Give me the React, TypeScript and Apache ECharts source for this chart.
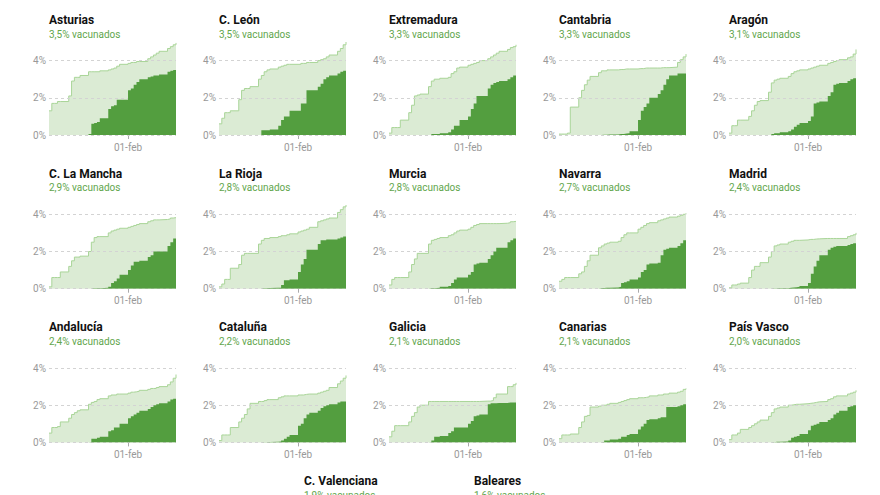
import React, { useEffect, useRef } from 'react';
import * as echarts from 'echarts';

// Report dates (weekdays) — cumulative % of population
const DATES = [
  '2021-01-04', '2021-01-05', '2021-01-06', '2021-01-07', '2021-01-08',
  '2021-01-11', '2021-01-12', '2021-01-13', '2021-01-14', '2021-01-15',
  '2021-01-18', '2021-01-19', '2021-01-20', '2021-01-21', '2021-01-22',
  '2021-01-25', '2021-01-26', '2021-01-27', '2021-01-28', '2021-01-29',
  '2021-02-01', '2021-02-02', '2021-02-03', '2021-02-04', '2021-02-05',
  '2021-02-08', '2021-02-09', '2021-02-10', '2021-02-11', '2021-02-12',
  '2021-02-15', '2021-02-16', '2021-02-17', '2021-02-18',
];
const X_MIN = '2021-01-04';
const X_MAX = '2021-02-18';
const X_TICKS = ['2021-02-01'];
const Y_TICKS = [0, 2, 4];
const Y_MAX = 5;
const MESES = ['ene', 'feb', 'mar', 'abr', 'may', 'jun', 'jul', 'ago', 'sep', 'oct', 'nov', 'dic'];

// Light area: first dose; dark area: fully vaccinated
const asturias1 = [1.3, 1.7, 1.7, 1.8, 1.8, 2.1, 2.9, 3.1, 3.1, 3.2, 3.4, 3.4, 3.4, 3.4, 3.45, 3.5, 3.55, 3.6, 3.7, 3.8, 3.85, 3.9, 3.9, 3.95, 3.95, 4.1, 4.2, 4.3, 4.4, 4.5, 4.65, 4.75, 4.85, 4.95];
const asturias2 = [0, 0, 0, 0, 0, 0, 0, 0, 0, 0, 0.05, 0.6, 0.65, 0.7, 0.9, 1.4, 1.55, 1.6, 1.9, 1.9, 2.4, 2.5, 2.7, 2.85, 3.0, 3.1, 3.15, 3.2, 3.2, 3.25, 3.4, 3.45, 3.5, 3.5];
const leon1 = [0.6, 0.9, 1.2, 1.2, 1.3, 1.9, 2.4, 2.5, 2.5, 2.6, 3.0, 3.2, 3.4, 3.5, 3.55, 3.65, 3.7, 3.75, 3.8, 3.8, 3.8, 3.85, 3.85, 3.9, 3.9, 4.0, 4.05, 4.1, 4.2, 4.3, 4.5, 4.65, 4.85, 5.0];
const leon2 = [0, 0, 0, 0, 0, 0, 0, 0, 0, 0, 0, 0.25, 0.25, 0.25, 0.3, 0.5, 0.8, 1.0, 1.0, 1.3, 1.3, 1.7, 1.7, 2.4, 2.4, 2.6, 2.75, 3.0, 3.1, 3.2, 3.3, 3.4, 3.45, 3.5];
const extremadura1 = [0.1, 0.4, 0.4, 0.4, 0.8, 1.2, 1.6, 2.1, 2.15, 2.2, 2.6, 2.9, 3.0, 3.0, 3.05, 3.1, 3.3, 3.4, 3.6, 3.65, 3.75, 3.8, 3.85, 3.9, 4.0, 4.1, 4.2, 4.3, 4.4, 4.5, 4.6, 4.7, 4.75, 4.85];
const extremadura2 = [0, 0, 0, 0, 0, 0, 0, 0, 0, 0, 0, 0.05, 0.05, 0.05, 0.1, 0.15, 0.3, 0.5, 0.5, 0.8, 1.0, 1.4, 1.7, 2.1, 2.1, 2.5, 2.7, 2.8, 2.85, 2.9, 3.0, 3.1, 3.2, 3.3];
const cantabria1 = [0.05, 0.05, 0.05, 0.1, 1.5, 2.0, 2.4, 2.7, 2.95, 3.15, 3.35, 3.45, 3.45, 3.5, 3.5, 3.52, 3.52, 3.55, 3.55, 3.55, 3.57, 3.57, 3.6, 3.6, 3.6, 3.6, 3.62, 3.62, 3.62, 3.65, 3.9, 4.05, 4.2, 4.35];
const cantabria2 = [0, 0, 0, 0, 0, 0, 0, 0, 0, 0, 0, 0.02, 0.02, 0.03, 0.03, 0.05, 0.06, 0.08, 0.1, 0.2, 0.8, 1.3, 1.5, 1.7, 2.0, 2.2, 2.4, 2.7, 3.0, 3.2, 3.3, 3.3, 3.3, 3.3];
const aragon1 = [0.1, 0.5, 0.5, 0.8, 0.8, 1.0, 1.3, 1.6, 1.8, 1.85, 2.3, 2.8, 2.95, 3.0, 3.05, 3.15, 3.3, 3.4, 3.45, 3.5, 3.55, 3.6, 3.65, 3.7, 3.75, 3.85, 3.9, 3.95, 4.0, 4.05, 4.15, 4.2, 4.35, 4.6];
const aragon2 = [0, 0, 0, 0, 0, 0, 0, 0, 0, 0, 0, 0.05, 0.1, 0.1, 0.15, 0.2, 0.3, 0.45, 0.55, 0.65, 0.75, 1.0, 1.7, 1.75, 1.8, 2.1, 2.3, 2.7, 2.75, 2.8, 2.9, 3.0, 3.05, 3.1];
const mancha1 = [0.1, 0.6, 0.6, 0.6, 0.9, 1.2, 1.5, 1.7, 1.7, 1.75, 2.0, 2.5, 2.75, 2.8, 2.8, 3.0, 3.1, 3.15, 3.2, 3.25, 3.3, 3.35, 3.4, 3.45, 3.5, 3.6, 3.65, 3.7, 3.7, 3.72, 3.75, 3.8, 3.82, 3.85];
const mancha2 = [0, 0, 0, 0, 0, 0, 0, 0, 0, 0, 0, 0.02, 0.02, 0.03, 0.05, 0.1, 0.3, 0.4, 0.55, 0.75, 1.0, 1.25, 1.45, 1.45, 1.5, 1.7, 1.8, 2.0, 2.0, 2.0, 2.3, 2.5, 2.7, 2.9];
const rioja1 = [0.1, 0.25, 0.5, 0.5, 1.1, 1.3, 1.8, 1.9, 1.9, 1.9, 2.4, 2.6, 2.7, 2.7, 2.75, 2.8, 2.85, 2.85, 2.9, 2.95, 3.05, 3.1, 3.15, 3.2, 3.3, 3.6, 3.65, 3.7, 3.75, 3.8, 4.1, 4.25, 4.4, 4.5];
const rioja2 = [0, 0, 0, 0, 0, 0, 0, 0, 0, 0, 0, 0.03, 0.03, 0.04, 0.05, 0.05, 0.2, 0.45, 0.45, 0.5, 0.9, 1.3, 1.6, 2.1, 2.1, 2.4, 2.6, 2.6, 2.65, 2.65, 2.7, 2.75, 2.8, 2.8];
const murcia1 = [0.2, 0.5, 0.6, 0.6, 0.6, 0.9, 1.3, 1.6, 1.9, 1.9, 2.4, 2.6, 2.65, 2.7, 2.75, 2.85, 2.9, 3.0, 3.1, 3.15, 3.2, 3.3, 3.4, 3.45, 3.5, 3.5, 3.5, 3.5, 3.5, 3.52, 3.55, 3.6, 3.62, 3.65];
const murcia2 = [0, 0, 0, 0, 0, 0, 0, 0, 0, 0, 0.02, 0.03, 0.04, 0.05, 0.1, 0.15, 0.3, 0.5, 0.6, 0.6, 0.75, 0.9, 1.3, 1.35, 1.4, 1.6, 1.8, 2.0, 2.2, 2.2, 2.5, 2.6, 2.7, 2.8];
const navarra1 = [0.4, 0.5, 0.6, 0.6, 0.6, 0.8, 0.9, 1.2, 1.5, 1.8, 2.2, 2.3, 2.4, 2.45, 2.5, 2.55, 2.75, 2.9, 3.0, 3.0, 3.2, 3.3, 3.4, 3.5, 3.55, 3.65, 3.7, 3.75, 3.8, 3.85, 3.9, 3.95, 4.0, 4.05];
const navarra2 = [0, 0, 0, 0, 0, 0, 0, 0, 0, 0, 0.03, 0.04, 0.05, 0.05, 0.07, 0.1, 0.3, 0.35, 0.4, 0.5, 0.6, 0.9, 1.0, 1.3, 1.35, 1.4, 1.8, 2.1, 2.15, 2.2, 2.3, 2.45, 2.6, 2.7];
const madrid1 = [0.05, 0.2, 0.2, 0.25, 0.3, 0.6, 1.0, 1.2, 1.2, 1.4, 1.7, 2.0, 2.3, 2.35, 2.4, 2.5, 2.55, 2.6, 2.6, 2.62, 2.65, 2.65, 2.67, 2.68, 2.7, 2.7, 2.7, 2.7, 2.7, 2.7, 2.8, 2.85, 2.9, 3.0];
const madrid2 = [0, 0, 0, 0, 0, 0, 0, 0, 0, 0, 0, 0.01, 0.01, 0.02, 0.03, 0.05, 0.06, 0.08, 0.1, 0.15, 0.3, 0.8, 1.2, 1.5, 1.8, 2.1, 2.2, 2.25, 2.3, 2.3, 2.35, 2.4, 2.45, 2.45];
const andalucia1 = [0.5, 0.8, 0.8, 0.85, 1.1, 1.3, 1.5, 1.6, 1.7, 1.75, 2.05, 2.15, 2.2, 2.3, 2.35, 2.5, 2.55, 2.55, 2.6, 2.6, 2.65, 2.7, 2.72, 2.75, 2.8, 2.85, 2.9, 2.9, 2.95, 3.0, 3.1, 3.25, 3.45, 3.65];
const andalucia2 = [0, 0, 0, 0, 0, 0, 0, 0, 0, 0, 0.02, 0.2, 0.2, 0.25, 0.3, 0.6, 0.65, 0.8, 0.8, 1.0, 1.3, 1.4, 1.5, 1.6, 1.7, 1.8, 1.9, 2.0, 2.05, 2.1, 2.2, 2.3, 2.35, 2.4];
const cataluna1 = [0.1, 0.4, 0.4, 0.4, 0.8, 1.1, 1.3, 1.5, 1.8, 2.1, 2.2, 2.2, 2.25, 2.3, 2.3, 2.4, 2.45, 2.5, 2.5, 2.5, 2.55, 2.55, 2.58, 2.6, 2.6, 2.65, 2.7, 2.75, 2.8, 2.95, 3.15, 3.3, 3.45, 3.6];
const cataluna2 = [0, 0, 0, 0, 0, 0, 0, 0, 0, 0, 0, 0.01, 0.01, 0.02, 0.03, 0.05, 0.1, 0.2, 0.3, 0.4, 0.9, 1.0, 1.3, 1.5, 1.6, 1.7, 1.85, 1.95, 2.0, 2.05, 2.15, 2.2, 2.2, 2.2];
const galicia1 = [0.3, 0.6, 0.9, 0.9, 0.9, 1.1, 1.4, 1.6, 1.9, 2.0, 2.2, 2.2, 2.2, 2.2, 2.2, 2.2, 2.2, 2.2, 2.2, 2.2, 2.2, 2.2, 2.2, 2.2, 2.22, 2.22, 2.25, 2.4, 2.6, 2.6, 3.0, 3.0, 3.1, 3.2];
const galicia2 = [0, 0, 0, 0, 0, 0, 0, 0, 0, 0, 0.02, 0.1, 0.3, 0.3, 0.35, 0.5, 0.6, 0.8, 0.8, 0.8, 1.0, 1.15, 1.4, 1.45, 1.5, 2.05, 2.1, 2.1, 2.12, 2.12, 2.15, 2.15, 2.15, 2.15];
const canarias1 = [0.2, 0.4, 0.4, 0.4, 0.45, 0.8, 1.1, 1.4, 1.45, 1.9, 1.95, 2.0, 2.0, 2.05, 2.1, 2.15, 2.2, 2.25, 2.3, 2.35, 2.4, 2.4, 2.42, 2.45, 2.5, 2.55, 2.55, 2.6, 2.6, 2.65, 2.7, 2.75, 2.85, 2.9];
const canarias2 = [0, 0, 0, 0, 0, 0, 0, 0, 0, 0, 0, 0.02, 0.1, 0.1, 0.15, 0.2, 0.3, 0.3, 0.4, 0.45, 0.7, 0.85, 1.0, 1.2, 1.25, 1.3, 1.35, 1.35, 1.9, 1.9, 1.95, 2.0, 2.05, 2.1];
const vasco1 = [0.15, 0.4, 0.4, 0.5, 0.7, 0.8, 0.9, 1.0, 1.1, 1.2, 1.4, 1.6, 1.8, 1.85, 1.9, 2.0, 2.02, 2.05, 2.05, 2.08, 2.1, 2.12, 2.15, 2.18, 2.2, 2.3, 2.35, 2.45, 2.5, 2.5, 2.6, 2.65, 2.7, 2.8];
const vasco2 = [0, 0, 0, 0, 0, 0, 0, 0, 0, 0, 0, 0.01, 0.03, 0.03, 0.05, 0.1, 0.25, 0.3, 0.35, 0.45, 0.65, 0.9, 0.95, 1.0, 1.1, 1.2, 1.3, 1.5, 1.6, 1.7, 1.9, 1.95, 2.0, 2.0];

const REGIONS = [
  { name: 'Asturias', vac: 3.5, first: asturias1, full: asturias2 },
  { name: 'C. León', vac: 3.5, first: leon1, full: leon2 },
  { name: 'Extremadura', vac: 3.3, first: extremadura1, full: extremadura2 },
  { name: 'Cantabria', vac: 3.3, first: cantabria1, full: cantabria2 },
  { name: 'Aragón', vac: 3.1, first: aragon1, full: aragon2 },
  { name: 'C. La Mancha', vac: 2.9, first: mancha1, full: mancha2 },
  { name: 'La Rioja', vac: 2.8, first: rioja1, full: rioja2 },
  { name: 'Murcia', vac: 2.8, first: murcia1, full: murcia2 },
  { name: 'Navarra', vac: 2.7, first: navarra1, full: navarra2 },
  { name: 'Madrid', vac: 2.4, first: madrid1, full: madrid2 },
  { name: 'Andalucía', vac: 2.4, first: andalucia1, full: andalucia2 },
  { name: 'Cataluña', vac: 2.2, first: cataluna1, full: cataluna2 },
  { name: 'Galicia', vac: 2.1, first: galicia1, full: galicia2 },
  { name: 'Canarias', vac: 2.1, first: canarias1, full: canarias2 },
  { name: 'País Vasco', vac: 2.0, first: vasco1, full: vasco2 },
];
const LAST_ROW = [
  { name: 'C. Valenciana', vac: 1.9 },
  { name: 'Baleares', vac: 1.6 },
];

const ts = (s: string) => {
  const [y, m, d] = s.split('-').map(Number);
  return new Date(y, m - 1, d).getTime();
};
const fmtDate = (v: number) => {
  const d = new Date(v);
  return String(d.getDate()).padStart(2, '0') + '-' + MESES[d.getMonth()];
};
const fmtVac = (v: number) => v.toFixed(1).replace('.', ',') + '% vacunados';

const FONT = 'Roboto, "Noto Sans", sans-serif';
const LIGHT_FILL = '#dbebd4';
const LIGHT_LINE = '#a9d598';
const DARK_FILL = '#539e3f';
const SUB_COLOR = '#62a64c';
const AXIS_TXT = '#999999';

const COL_W = 170;
const ROW_H = 153.7;
const LEFT0 = 49;
const GRID_TOP0 = 42;
const GRID_W = 127;
const GRID_H = 93;
const TITLE_TOP0 = 13;

function buildOption() {
  const title: any[] = [];
  const grid: any[] = [];
  const xAxis: any[] = [];
  const yAxis: any[] = [];
  const series: any[] = [];

  const addTitle = (name: string, vac: number, left: number, top: number) => {
    title.push({
      text: name,
      subtext: fmtVac(vac),
      left,
      top,
      padding: 0,
      itemGap: 1,
      textStyle: { fontFamily: FONT, fontSize: 12, fontWeight: 'bold', color: '#111111', lineHeight: 14 },
      subtextStyle: { fontFamily: FONT, fontSize: 10, color: SUB_COLOR, lineHeight: 12 },
    });
  };

  REGIONS.forEach((r, i) => {
    const col = i % 5;
    const row = Math.floor(i / 5);
    const left = LEFT0 + COL_W * col;
    addTitle(r.name, r.vac, left, TITLE_TOP0 + ROW_H * row);
    grid.push({ left, top: GRID_TOP0 + ROW_H * row, width: GRID_W, height: GRID_H, containLabel: false });
    xAxis.push({
      type: 'value',
      gridIndex: i,
      min: ts(X_MIN),
      max: ts(X_MAX),
      scale: true,
      axisLine: { show: false },
      axisTick: {
        show: true,
        customValues: X_TICKS.map(ts),
        length: 4,
        lineStyle: { color: '#aaaaaa', width: 1 },
      },
      axisLabel: {
        customValues: X_TICKS.map(ts),
        formatter: (v: number) => fmtDate(v),
        color: AXIS_TXT,
        fontSize: 10,
        fontFamily: FONT,
        margin: 7,
        showMinLabel: false,
        showMaxLabel: false,
      },
      splitLine: { show: false },
      axisPointer: { show: false },
    });
    yAxis.push({
      type: 'value',
      gridIndex: i,
      min: 0,
      max: Y_MAX,
      interval: 2,
      axisLine: { show: false },
      axisTick: { show: false },
      splitLine: { show: false },
      axisLabel: {
        color: AXIS_TXT,
        fontSize: 10,
        fontFamily: FONT,
        margin: 3,
        showMaxLabel: false,
        formatter: (v: number) => (Y_TICKS.includes(v) ? v + '%' : ''),
      },
    });
    series.push({
      type: 'line',
      xAxisIndex: i,
      yAxisIndex: i,
      step: 'end',
      symbol: 'none',
      silent: true,
      z: 2,
      lineStyle: { color: LIGHT_LINE, width: 1 },
      areaStyle: { color: LIGHT_FILL, opacity: 1 },
      data: DATES.map((d, j) => [ts(d), r.first[j]]),
      markLine: {
        silent: true,
        z: 3,
        symbol: ['none', 'none'],
        label: { show: false },
        lineStyle: { type: [3, 3], color: '#d3d3d3', width: 1 },
        data: Y_TICKS.map((v) => ({ yAxis: v })),
      },
    });
    series.push({
      type: 'line',
      xAxisIndex: i,
      yAxisIndex: i,
      step: 'end',
      symbol: 'none',
      silent: true,
      z: 4,
      lineStyle: { width: 0, color: DARK_FILL },
      areaStyle: { color: DARK_FILL, opacity: 1 },
      data: DATES.map((d, j) => [ts(d), r.full[j]]),
    });
  });

  LAST_ROW.forEach((r, k) => {
    const left = LEFT0 + COL_W * (1.5 + k);
    addTitle(r.name, r.vac, left, TITLE_TOP0 + ROW_H * 3);
  });

  return {
    animation: false,
    backgroundColor: '#ffffff',
    textStyle: { fontFamily: FONT },
    title,
    grid,
    xAxis,
    yAxis,
    series,
  };
}

export default function App() {
  const ref = useRef<HTMLDivElement>(null);
  useEffect(() => {
    if (!ref.current) return;
    const chart = echarts.init(ref.current, undefined, { renderer: 'svg' });
    chart.setOption(buildOption() as any);
    return () => chart.dispose();
  }, []);
  return (
    <div
      ref={ref}
      style={{ position: 'absolute', left: 0, top: 0, width: 880, height: 495, overflow: 'hidden' }}
    />
  );
}
